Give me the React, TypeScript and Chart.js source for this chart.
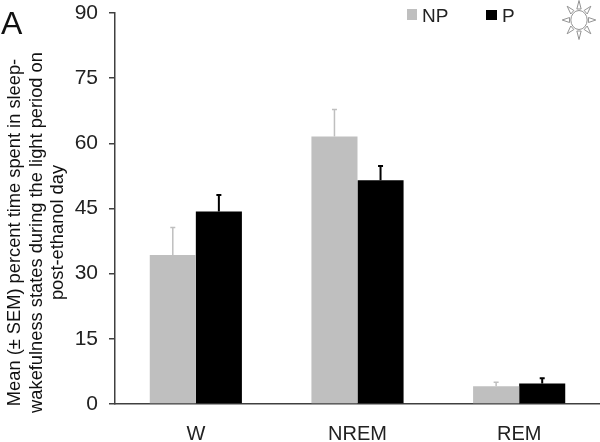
import React, { useEffect, useRef } from "react";
import { Chart, registerables } from "chart.js";

Chart.register(...registerables);

const categories = ["W", "NREM", "REM"];
const npValues = [34.3, 61.6, 4.1];
const pValues = [44.3, 51.5, 4.7];
const npErrors = [6.3, 6.2, 0.9];
const pErrors = [3.8, 3.3, 1.2];
const yTitle = [
  "Mean (± SEM) percent time spent in sleep-",
  "wakefulness states during the light period on",
  "post-ethanol day",
];
const NP_COLOR = "#bfbfbf";
const P_COLOR = "#000000";
const AXIS_COLOR = "#404040";
const FONT = "Liberation Sans, Arial, sans-serif";

const errorBars = {
  id: "errorBars",
  afterDatasetsDraw(chart: any) {
    const ctx = chart.ctx;
    const y = chart.scales.y;
    chart.data.datasets.forEach((ds: any, i: number) => {
      const meta = chart.getDatasetMeta(i);
      ds.errors.forEach((err: number, j: number) => {
        const el = meta.data[j];
        const top = y.getPixelForValue(ds.data[j] + err);
        ctx.save();
        ctx.strokeStyle = ds.backgroundColor;
        ctx.lineWidth = ds.errorWidth;
        ctx.beginPath();
        ctx.moveTo(el.x, el.y);
        ctx.lineTo(el.x, top);
        ctx.moveTo(el.x - 2.5, top);
        ctx.lineTo(el.x + 2.5, top);
        ctx.stroke();
        ctx.restore();
      });
    });
  },
};

const annotations = {
  id: "annotations",
  afterDraw(chart: any) {
    const ctx = chart.ctx;
    ctx.save();
    // Panel letter
    ctx.fillStyle = "#111";
    ctx.font = `32px ${FONT}`;
    ctx.textBaseline = "alphabetic";
    ctx.textAlign = "left";
    ctx.fillText("A", 1, 34);

    // Y axis title
    ctx.save();
    ctx.translate(0, 232.5);
    ctx.rotate(-Math.PI / 2);
    ctx.textAlign = "center";
    ctx.fillStyle = "#111";
    ctx.font = `18.3px ${FONT}`;
    yTitle.forEach((line, k) => {
      ctx.fillText(line, 0, 20 + k * 21.5);
    });
    ctx.restore();

    // Legend
    ctx.font = `19px ${FONT}`;
    ctx.fillStyle = NP_COLOR;
    ctx.fillRect(407, 9, 10, 11);
    ctx.fillStyle = P_COLOR;
    ctx.fillRect(486, 10, 11, 10);
    ctx.fillStyle = "#222";
    ctx.fillText(chart.data.datasets[0].label, 422, 22);
    ctx.fillText(chart.data.datasets[1].label, 502, 22);

    // Sun icon
    ctx.translate(579, 20);
    ctx.scale(0.86, 1);
    ctx.strokeStyle = "#8c8c8c";
    ctx.lineWidth = 1;
    ctx.beginPath();
    ctx.arc(0, 0, 9.5, 0, Math.PI * 2);
    ctx.stroke();
    for (let k = 0; k < 8; k++) {
      const a = (k * Math.PI) / 4;
      const perp = a + Math.PI / 2;
      const bx = Math.cos(a) * 11;
      const by = Math.sin(a) * 11;
      ctx.beginPath();
      ctx.moveTo(bx + Math.cos(perp) * 2.5, by + Math.sin(perp) * 2.5);
      ctx.lineTo(Math.cos(a) * 19.5, Math.sin(a) * 19.5);
      ctx.lineTo(bx - Math.cos(perp) * 2.5, by - Math.sin(perp) * 2.5);
      ctx.closePath();
      ctx.stroke();
    }
    ctx.restore();
  },
};

export default function App() {
  const ref = useRef<HTMLCanvasElement>(null);
  useEffect(() => {
    const chart = new Chart(ref.current as HTMLCanvasElement, {
      type: "bar",
      data: {
        labels: categories,
        datasets: [
          { label: "NP", data: npValues, errors: npErrors, errorWidth: 1.5, backgroundColor: NP_COLOR } as any,
          { label: "P", data: pValues, errors: pErrors, errorWidth: 2, backgroundColor: P_COLOR } as any,
        ],
      },
      plugins: [errorBars, annotations],
      options: {
        responsive: false,
        animation: false,
        layout: { padding: 0 },
        plugins: { legend: { display: false }, tooltip: { enabled: false } },
        datasets: { bar: { barPercentage: 1, categoryPercentage: 0.57 } },
        scales: {
          x: {
            grid: { display: false },
            border: { display: true, color: AXIS_COLOR, width: 1.5 },
            ticks: { color: "#222", font: { family: FONT, size: 20 }, padding: 10, maxRotation: 0 },
            afterFit(s: any) {
              s.height = 38;
            },
          },
          y: {
            min: 0,
            max: 90,
            grid: { drawOnChartArea: false, color: AXIS_COLOR, tickLength: 6, lineWidth: 1.5 },
            border: { display: true, color: AXIS_COLOR, width: 1.5 },
            ticks: { stepSize: 15, color: "#222", font: { family: FONT, size: 21 }, padding: 11 },
            afterFit(s: any) {
              s.width = 115;
              s.paddingTop = 13;
              s.paddingBottom = 0;
            },
          },
        },
      } as any,
    });
    return () => chart.destroy();
  }, []);
  return (
    <div style={{ position: "absolute", left: 0, top: 0, width: 600, height: 442 }}>
      <canvas ref={ref} width={600} height={442} style={{ display: "block" }} />
    </div>
  );
}
